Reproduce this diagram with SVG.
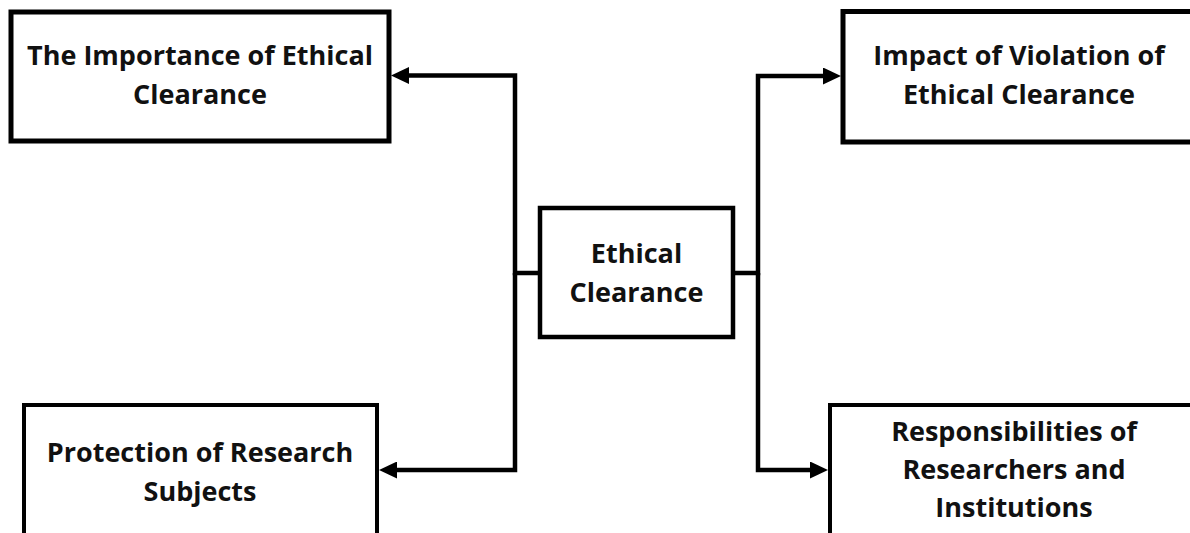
<svg xmlns="http://www.w3.org/2000/svg" width="1190" height="533" viewBox="0 0 1190 533">
<style>
.box{fill:#fff;stroke:#000;}
.t{font-family:"Open Sans","Liberation Sans",sans-serif;font-weight:bold;font-size:27px;fill:#111;text-anchor:middle;}
.c{fill:none;stroke:#000;stroke-width:4.5;stroke-linejoin:miter;}
</style>
<defs>
<marker id="ah" markerUnits="userSpaceOnUse" markerWidth="18" markerHeight="17" refX="4" refY="8.5" orient="auto" viewBox="0 0 18 17">
<path d="M0,0 L18,8.5 L0,17 z" fill="#000"/>
</marker>
</defs>
<rect width="1190" height="533" fill="#fff"/>
<g id="connectors">
<path class="c" d="M540,273 H515 V75.5 H405" marker-end="url(#ah)"/>
<path class="c" d="M515,273 V470 H393" marker-end="url(#ah)"/>
<path class="c" d="M733,273 H758 V76 H827" marker-end="url(#ah)"/>
<path class="c" d="M758,273 V470 H814" marker-end="url(#ah)"/>
</g>
<g id="n-importance">
<rect class="box" x="11" y="12" width="378" height="129" stroke-width="5"/>
<text class="t" x="200" y="65">The Importance of Ethical</text>
<text class="t" x="200" y="104">Clearance</text>
</g>
<g id="n-impact">
<rect class="box" x="843" y="11.5" width="400" height="130.5" stroke-width="5"/>
<text class="t" x="1019" y="65">Impact of Violation of</text>
<text class="t" x="1019" y="104">Ethical Clearance</text>
</g>
<g id="n-center">
<rect class="box" x="540" y="208" width="193" height="129" stroke-width="4.5"/>
<text class="t" x="636.5" y="263">Ethical</text>
<text class="t" x="636.5" y="302">Clearance</text>
</g>
<g id="n-protection">
<rect class="box" x="24" y="405" width="353" height="150" stroke-width="4"/>
<text class="t" x="200" y="462">Protection of Research</text>
<text class="t" x="200" y="501">Subjects</text>
</g>
<g id="n-responsibilities">
<rect class="box" x="830" y="405" width="400" height="150" stroke-width="4"/>
<text class="t" x="1014" y="441">Responsibilities of</text>
<text class="t" x="1014" y="479">Researchers and</text>
<text class="t" x="1014" y="517">Institutions</text>
</g>
</svg>
